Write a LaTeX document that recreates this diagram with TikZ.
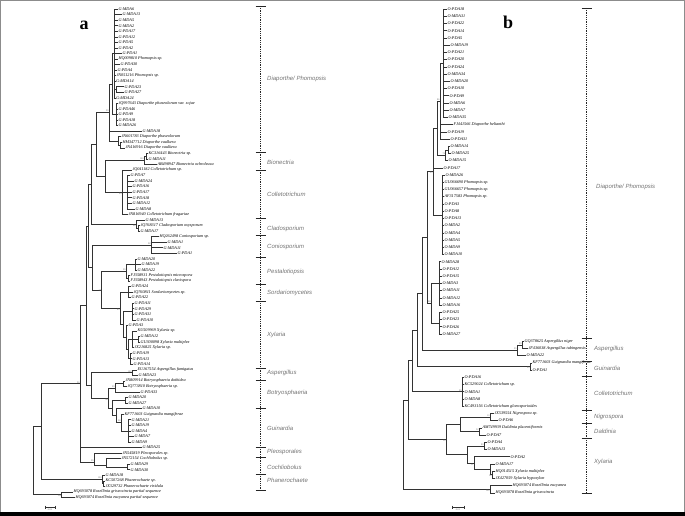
\documentclass[tikz,border=0pt]{standalone}
\usepackage{fontspec}
\setmainfont{Liberation Serif}
\setsansfont{Liberation Sans}
\usetikzlibrary{positioning}
\begin{document}
\begin{tikzpicture}[x=1pt, y=-1pt,
  leaf/.style={anchor=west, inner sep=0.3pt, font=\fontsize{4.2}{4.2}\selectfont\itshape},
  br/.style={draw=black!80, line width=0.45pt},
  sup/.style={font=\fontsize{2.4}{2.4}\selectfont, text=black!60, inner sep=0.3pt},
  grp/.style={anchor=west, inner sep=0pt, text=black!55,
              font=\fontsize{6}{6}\selectfont\sffamily\itshape},
  brk/.style={draw=black!85, line width=0.6pt, dash pattern=on 1pt off 0.8pt},
  tick/.style={draw=black!85, line width=0.7pt},
  lab/.style={font=\fontsize{18}{18}\selectfont\bfseries},
]
  \useasboundingbox (0,0) rectangle (685,516);
  % frame
  \draw[black!45, line width=1pt] (0,0.5) -- (685,0.5);
  \draw[black!45, line width=1pt] (0.5,0) -- (0.5,512) (684.5,0) -- (684.5,512);
  \fill[black] (0,511.5) rectangle (685,516);

  \node[lab] (la) at (84,25) {a};
  \node[lab] (lb) at (508,22) {b};

  % Panel a
  \begin{scope}[y=-5.55pt, yshift=-3.45pt]
  \foreach \i/\x/\t in {1/118/G-MDA6, 2/122/G-MDA13, 3/118/G-MDA5, 4/118/G-MDA2,
      5/118/G-PDA17, 6/118/G-PDA12, 7/118/G-PDA5, 8/118/G-PDA2, 9/122/G-PDA1,
      10/118/HQ009810 Phomopsis sp., 11/120/G-PDA30, 12/117/G-PDA4,
      13/116/JN051216 Phomopsis sp., 14/115.5/G-MDA14, 15/124/G-PDA23,
      16/124/G-PDA27, 17/115.5/G-MDA24,
      18/118/JQ997643 Diaporthe phaseolorum var. sojae,
      19/118/G-PDA46, 20/118/G-PDA9, 21/118/G-PDA18, 22/118/G-MDA26,
      23/142/G-MDA18, 24/121/JN601783 Diaporthe phaseolorum,
      25/122/HM347712 Diaporthe vaulkera, 26/125/JN416916 Diaporthe vaulkera,
      27/148/KC316443 Bionectria sp., 28/148/G-MDA11,
      29/157/AB498947 Bionectria ochroleuca,
      30/132/JQ041182 Colletotrichum sp., 31/130/G-PDA7, 32/134/G-MDA24,
      33/132/G-PDA16, 34/132/G-PDA17, 35/132/G-PDA18, 36/132/G-MDA12,
      37/135/G-MDA8, 38/128/JN816940 Colletotrichum fragariae,
      39/145/G-MDA13, 40/140/JQ768317 Cladosporium oxysporum, 41/140/G-MDA17,
      42/159/HQ262498 Coniosporium sp., 43/167/G-MDA1, 44/163/G-MDA11,
      45/177/G-PDA1, 46/137/G-MDA20, 47/141/G-MDA19, 48/137/G-MDA22,
      49/130/FJ358931 Pestalotiopsis microspora,
      50/130/FJ358943 Pestalotiopsis clavispora,
      51/131/G-PDA24, 52/133/JQ760811 Sordariomycetes sp., 53/131/G-PDA22,
      54/134/G-PDA11, 55/134/G-PDA29, 56/134/G-PDA31, 57/136/G-PDA10,
      58/128/G-PDA3, 59/137/KU509969 Xylaria sp., 60/140/G-MDA12,
      61/140/GU300098 Xylaria multiplex, 62/134/JX216825 Xylaria sp.,
      63/132/G-PDA19, 64/132/G-PDA13, 65/133/G-PDA14,
      66/137/EU167554 Aspergillus fumigatus, 67/138/G-MDA23,
      68/125/JN809914 Botryosphaeria dothidea, 69/127/JQ773810 Botryosphaeria sp.,
      70/140/G-PDA33, 71/128/G-MDA20, 72/128/G-MDA27, 73/142/G-MDA10,
      74/124/KF771603 Guignardia mangiferae, 75/131/G-MDA21, 76/131/G-MDA19,
      77/131/G-MDA4, 78/134/G-MDA7, 79/131/G-MDA9, 80/142/G-MDA25,
      81/122/JN545819 Pleosporales sp., 82/121/JN572154 Cochliobolus sp.,
      83/130/G-MDA29, 84/130/G-MDA30, 85/105/G-MDA18,
      86/105/KC507268 Phanerochaete sp., 87/105/JX329732 Phanerochaete viridula,
      88/73/HQ693078 Rosellinia griseocincta partial sequence,
      89/75/HQ693074 Rosellinia eucyanea partial sequence}
    \node[leaf] (a\i) at (\x,\i) {\t};

  % inner nodes
  \coordinate (aP1) at (114,9);     \coordinate (aQ) at (116.5,15.5);
  \coordinate (aP2) at (116.5,20);  \coordinate (aP) at (112,14.5);
  \coordinate (aR2) at (120,25.5);  \coordinate (aR) at (118,24.75);
  \coordinate (aD) at (109,19.6);
  \coordinate (aN2) at (146.5,27.5); \coordinate (aN) at (144,28.25);
  \coordinate (aC2) at (127,34);    \coordinate (aC) at (122,34);
  \coordinate (aBC) at (105,31.1);  \coordinate (aDB) at (96,25.35);
  \coordinate (aL2) at (138,40.5);  \coordinate (aL) at (136,39.75);
  \coordinate (aDBL) at (91.7,32.55); \coordinate (aK) at (151,43.5);
  \coordinate (aS2) at (135,47);    \coordinate (aS3) at (128.5,49.5);
  \coordinate (aS) at (126,48.25);  \coordinate (aO) at (128,52);
  \coordinate (aX1) at (132.5,55.5); \coordinate (aX2b) at (138.5,60.5);
  \coordinate (aX2) at (132.5,60.5); \coordinate (aX3) at (130.5,64);
  \coordinate (aXa) at (128,62.25); \coordinate (aXb) at (126,60.1);
  \coordinate (aX) at (123,57.8);   \coordinate (aOX) at (120,54.9);
  \coordinate (aPS) at (101.7,51.6); \coordinate (aKPS) at (92.7,47.55);
  \coordinate (aU) at (88,40.05);   \coordinate (aU0) at (86.7,54.4);
  \coordinate (aA) at (132,66.5);   \coordinate (aB2) at (123,68.5);
  \coordinate (aB) at (115,69.25);  \coordinate (aM) at (125,71.5);
  \coordinate (aG3) at (128,77);    \coordinate (aG2) at (121,75.5);
  \coordinate (aG) at (116,74.25);  \coordinate (aGM) at (112,72.9);
  \coordinate (aBG) at (108.3,71.1); \coordinate (aABG) at (91.7,68.8);
  \coordinate (aE3) at (127,83.5);  \coordinate (aE2) at (106,83.2);
  \coordinate (aE) at (94,82.6);    \coordinate (aI) at (80,68.5);
  \coordinate (aH2) at (103.5,86.5); \coordinate (aH) at (102,85.75);
  \coordinate (aI2) at (41.7,76.1); \coordinate (aZ) at (61.7,88.5);
  \coordinate (aRoot) at (33.3,82.3);

  % branches
  \foreach \c in {1,...,14,17} \draw[br] (aP1) |- (a\c.west);
  \foreach \c in {15,16} \draw[br] (aQ) |- (a\c.west);
  \draw[br] (aP1) |- (aQ);
  \foreach \c in {18,...,22} \draw[br] (aP2) |- (a\c.west);
  \draw[br] (aP) |- (aP1) (aP) |- (aP2);
  \foreach \c in {25,26} \draw[br] (aR2) |- (a\c.west);
  \draw[br] (aR) |- (a24.west) (aR) |- (aR2);
  \draw[br] (aD) |- (aP) (aD) |- (a23.west) (aD) |- (aR);
  \foreach \c in {27,28} \draw[br] (aN2) |- (a\c.west);
  \draw[br] (aN) |- (aN2) (aN) |- (a29.west);
  \foreach \c in {31,...,37} \draw[br] (aC2) |- (a\c.west);
  \draw[br] (aC) |- (a30.west) (aC) |- (aC2) (aC) |- (a38.west);
  \draw[br] (aBC) |- (aN) (aBC) |- (aC);
  \draw[br] (aDB) |- (aD) (aDB) |- (aBC);
  \draw[br] (aL2) |- (a40.west) (aL2) |- (a41.west);
  \draw[br] (aL) |- (a39.west) (aL) |- (aL2);
  \draw[br] (aDBL) |- (aDB) (aDBL) |- (aL);
  \foreach \c in {42,...,45} \draw[br] (aK) |- (a\c.west);
  \foreach \c in {46,47,48} \draw[br] (aS2) |- (a\c.west);
  \draw[br] (aS3) |- (a49.west) (aS3) |- (a50.west);
  \draw[br] (aS) |- (aS2) (aS) |- (aS3);
  \foreach \c in {51,52,53} \draw[br] (aO) |- (a\c.west);
  \foreach \c in {54,...,57} \draw[br] (aX1) |- (a\c.west);
  \draw[br] (aX2b) |- (a60.west) (aX2b) |- (a61.west);
  \draw[br] (aX2) |- (a59.west) (aX2) |- (aX2b) (aX2) |- (a62.west);
  \foreach \c in {63,64,65} \draw[br] (aX3) |- (a\c.west);
  \draw[br] (aXa) |- (aX2) (aXa) |- (aX3);
  \draw[br] (aXb) |- (a58.west) (aXb) |- (aXa);
  \draw[br] (aX) |- (aX1) (aX) |- (aXb);
  \draw[br] (aOX) |- (aO) (aOX) |- (aX);
  \draw[br] (aPS) |- (aS) (aPS) |- (aOX);
  \draw[br] (aKPS) |- (aK) (aKPS) |- (aPS);
  \draw[br] (aU) |- (aDBL) (aU) |- (aKPS);
  \draw[br] (aA) |- (a66.west) (aA) |- (a67.west);
  \draw[br] (aB2) |- (a68.west) (aB2) |- (a69.west);
  \draw[br] (aB) |- (aB2) (aB) |- (a70.west);
  \draw[br] (aM) |- (a71.west) (aM) |- (a72.west);
  \foreach \c in {75,...,79} \draw[br] (aG3) |- (a\c.west);
  \draw[br] (aG2) |- (a74.west) (aG2) |- (aG3);
  \draw[br] (aG) |- (a73.west) (aG) |- (aG2);
  \draw[br] (aGM) |- (aM) (aGM) |- (aG);
  \draw[br] (aBG) |- (aB) (aBG) |- (aGM);
  \draw[br] (aABG) |- (aA) (aABG) |- (aBG);
  \draw[br] (aU0) |- (aU) (aU0) |- (aABG);
  \draw[br] (aE3) |- (a83.west) (aE3) |- (a84.west);
  \draw[br] (aE2) |- (a82.west) (aE2) |- (aE3);
  \draw[br] (aE) |- (a81.west) (aE) |- (aE2);
  \draw[br] (aI) |- (aU0) (aI) |- (a80.west) (aI) |- (aE);
  \draw[br] (aH2) |- (a86.west) (aH2) |- (a87.west);
  \draw[br] (aH) |- (a85.west) (aH) |- (aH2);
  \draw[br] (aZ) |- (a88.west) (aZ) |- (a89.west);
  \draw[br] (aI2) |- (aI) (aI2) |- (aH);
  \draw[br] (aRoot) |- (aI2) (aRoot) |- (aZ);

  % support values
  \node[sup, anchor=south east] at (aD) {99};
  \node[sup, anchor=south east] at (aN) {100};
  \node[sup, anchor=north east] at (aC) {84};
  \node[sup, anchor=north east] at (aL) {98};
  \node[sup, anchor=south east] at (aK) {98};
  \node[sup, anchor=south east] at (aS) {99};
  \node[sup, anchor=north east] at (aOX) {85};
  \node[sup, anchor=north east] at (aPS) {98};
  \node[sup, anchor=south east] at (aA) {100};
  \node[sup, anchor=south east] at (aB) {99};
  \node[sup, anchor=south east] at (aG2) {98};
  \node[sup, anchor=north east] at (aBG) {96};
  \node[sup, anchor=south east] at (aE) {99};
  \node[sup, anchor=south east] at (aH) {100};
  \node[sup, anchor=north east] at (aZ) {100};
  \node[sup, anchor=south east] at (aI) {96};
  \end{scope}

  % clades of panel a
  \draw[brk] (260.7,6) -- (260.7,490);
  \foreach \t in {6,152,170,218,235,257,284,301,368,380,408,447,457,474,490}
    \draw[tick] (255.7,\t) -- (265.7,\t);
  \node[grp] (gaD) at (267,79) {Diaporthe/ Phomopsis};
  \foreach \t/\y in {Bionectria/162, Colletotrichum/194,
      Cladosporium/229, Coniosporium/247, Pestalotiopsis/272, Sordariomycetes/293,
      Xylaria/335, Aspergillus/373, Botryosphaeria/393, Guinardia/428,
      Pleosporales/452, Cochliobolus/467, Phanerochaete/480}
    \node[grp] at (267,\y) {\t};

  % scale bar a
  \draw[br] (45,507) -- (55,507);
  \draw[br] (45,505.5) -- (45,508.5) (55,505.5) -- (55,508.5);
  \node[sup] (sa) at (50,510) {0.02};

  % Panel b
  \begin{scope}[y=-7.22pt, yshift=-1.78pt]
  \foreach \i/\x/\t in {1/447/O-PDA18, 2/447/O-MDA31, 3/447/O-PDA22, 4/447/O-PDA14,
      5/447/O-PDA5, 6/450/O-MDA19, 7/447/O-PDA21, 8/447/O-PDA20, 9/447/O-PDA24,
      10/447/O-MDA34, 11/450/O-MDA20, 12/447/O-PDA10, 13/449/O-PDA9,
      14/449/O-MDA6, 15/449/O-MDA7, 16/448/O-MDA35,
      17/453/FJ441566 Diaporthe helianthi, 18/447/O-PDA19, 19/450/O-PDA31,
      20/450/O-MDA14, 21/451/O-MDA25, 22/448/O-MDA15, 23/443/O-PDA17,
      24/445/O-MDA26, 25/444/GU066690 Phomopsis sp., 26/444/GU066657 Phomopsis sp.,
      27/444/AF317583 Phomopsis sp., 28/444/O-PDA3, 29/444/O-PDA8,
      30/444/O-PDA13, 31/444/O-MDA2, 32/444/O-MDA4, 33/444/O-MDA5,
      34/444/O-MDA9, 35/444/O-MDA10, 36/441/O-MDA28, 37/442/O-PDA12,
      38/442/O-PDA15, 39/442/O-MDA3, 40/442/O-MDA11, 41/442/O-MDA12,
      42/442/O-MDA16, 43/442/O-PDA25, 44/442/O-PDA23, 45/442/O-PDA26,
      46/442/O-MDA27, 47/524/GQ378625 Aspergillus niger,
      48/528/JF436038 Aspergillus tubingensis, 49/526/O-MDA22,
      50/532/KF771603 Guignardia mangiferae, 51/532/O-PDA1, 52/464/O-PDA16,
      53/464/KC529024 Colletotrichum sp., 54/464/O-MDA1, 55/464/O-MDA8,
      56/464/KC493156 Colletotrichum gloeosporioides,
      57/494/JX539554 Nigrospora sp., 58/498/O-PDA6,
      59/482/AM749939 Daldinia placentiformis, 60/486/O-PDA7,
      61/487/O-PDA4, 62/487/O-MDA13, 63/510/O-PDA2, 64/495/O-MDA17,
      65/495/HQ014515 Xylaria multiplex, 66/495/JX427059 Xylaria hypoxylon,
      67/512/HQ693074 Rosellinia eucyanea, 68/495/HQ693078 Rosellinia griseocincta}
    \node[leaf] (b\i) at (\x,\i) {\t};

  % inner nodes
  \coordinate (bC1) at (443,8.5);   \coordinate (bA) at (440,13.75);
  \coordinate (bM2) at (448.5,20.5); \coordinate (bM) at (445.5,21.25);
  \coordinate (bB) at (437,17.5);   \coordinate (bP) at (442,29.5);
  \coordinate (bR) at (433,23.5);   \coordinate (bQ1) at (439,39);
  \coordinate (bQ2) at (439,44.5);  \coordinate (bQ) at (431,41.75);
  \coordinate (bD) at (427,32.6);
  \coordinate (bS2) at (522,47.5);  \coordinate (bS) at (517,48.25);
  \coordinate (bG) at (530,50.5);   \coordinate (bC) at (462,54);
  \coordinate (bN) at (490,57.5);   \coordinate (bL) at (479,59.5);
  \coordinate (bNL) at (460,58.5);
  \coordinate (bX1) at (484,61.5);  \coordinate (bX2) at (492,65.5);
  \coordinate (bX3) at (490,64.75); \coordinate (bX4) at (474,63.9);
  \coordinate (bX5) at (467,62.7);  \coordinate (bNX) at (446,60.6);
  \coordinate (bH) at (490,67.5);
  \coordinate (bT1) at (422,40.4);  \coordinate (bT2) at (417,45.45);
  \coordinate (bT3) at (412,49.7);  \coordinate (bT4) at (408,55.2);
  \coordinate (bRoot) at (403,61.3);

  % branches
  \foreach \c in {1,...,16} \draw[br] (bC1) |- (b\c.west);
  \draw[br] (bA) |- (bC1);
  \foreach \c in {17,18,19} \draw[br] (bA) |- (b\c.west);
  \draw[br] (bM2) |- (b20.west) (bM2) |- (b21.west);
  \draw[br] (bM) |- (bM2) (bM) |- (b22.west);
  \draw[br] (bB) |- (bA) (bB) |- (bM);
  \foreach \c in {24,...,35} \draw[br] (bP) |- (b\c.west);
  \draw[br] (bR) |- (bB) (bR) |- (b23.west) (bR) |- (bP);
  \foreach \c in {36,...,42} \draw[br] (bQ1) |- (b\c.west);
  \foreach \c in {43,...,46} \draw[br] (bQ2) |- (b\c.west);
  \draw[br] (bQ) |- (bQ1) (bQ) |- (bQ2);
  \draw[br] (bD) |- (bR) (bD) |- (bQ);
  \draw[br] (bS2) |- (b47.west) (bS2) |- (b48.west);
  \draw[br] (bS) |- (bS2) (bS) |- (b49.west);
  \draw[br] (bG) |- (b50.west) (bG) |- (b51.west);
  \foreach \c in {52,...,56} \draw[br] (bC) |- (b\c.west);
  \draw[br] (bN) |- (b57.west) (bN) |- (b58.west);
  \draw[br] (bL) |- (b59.west) (bL) |- (b60.west);
  \draw[br] (bNL) |- (bN) (bNL) |- (bL);
  \draw[br] (bX1) |- (b61.west) (bX1) |- (b62.west);
  \draw[br] (bX2) |- (b65.west) (bX2) |- (b66.west);
  \draw[br] (bX3) |- (b64.west) (bX3) |- (bX2);
  \draw[br] (bX4) |- (b63.west) (bX4) |- (bX3);
  \draw[br] (bX5) |- (bX1) (bX5) |- (bX4);
  \draw[br] (bNX) |- (bNL) (bNX) |- (bX5);
  \draw[br] (bH) |- (b67.west) (bH) |- (b68.west);
  \draw[br] (bT1) |- (bD) (bT1) |- (bS);
  \draw[br] (bT2) |- (bT1) (bT2) |- (bG);
  \draw[br] (bT3) |- (bT2) (bT3) |- (bC);
  \draw[br] (bT4) |- (bT3) (bT4) |- (bNX);
  \draw[br] (bRoot) |- (bT4) (bRoot) |- (bH);

  % support values
  \node[sup, anchor=south east] at (bA) {86};
  \node[sup, anchor=south east] at (bM) {76};
  \node[sup, anchor=north east] at (bR) {95};
  \node[sup, anchor=south east] at (bQ) {88};
  \node[sup, anchor=south east] at (bS2) {99};
  \node[sup, anchor=south east] at (bS) {95};
  \node[sup, anchor=north east] at (bG) {99};
  \node[sup, anchor=south east] at (bC) {99};
  \node[sup, anchor=south east] at (bN) {10};
  \node[sup, anchor=south east] at (bL) {52};
  \node[sup, anchor=south east] at (bX1) {89};
  \node[sup, anchor=north east] at (bX4) {11};
  \node[sup, anchor=north east] at (bX2) {58};
  \node[sup, anchor=north east] at (bH) {100};
  \node[sup, anchor=north east] at (bNX) {56};
  \end{scope}

  % clades of panel b
  \draw[brk] (586.7,8) -- (586.7,493);
  \foreach \t in {8,338,361,376,410,423,438,493}
    \draw[tick] (581.7,\t) -- (591.7,\t);
  \node[grp] (gbD) at (596,187) {Diaporthe/ Phomopsis};
  \foreach \t/\y in {Aspergillus/349, Guinardia/368,
      Colletotrichum/393, Nigrospora/417, Daldinia/431, Xylaria/462}
    \node[grp] at (594,\y) {\t};

  % scale bar b
  \draw[br] (452,507) -- (464,507);
  \draw[br] (452,505.5) -- (452,508.5) (464,505.5) -- (464,508.5);
  \node[sup] (sb) at (458,510) {0.01};
\end{tikzpicture}
\end{document}
